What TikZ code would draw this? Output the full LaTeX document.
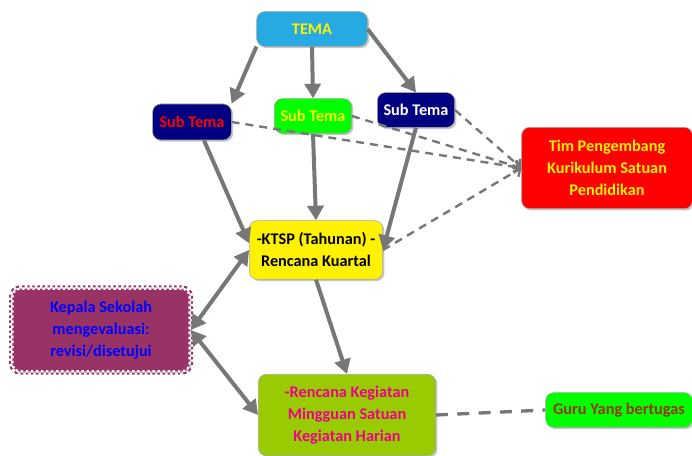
\documentclass[tikz,border=0pt]{standalone}
\usepackage{fontspec}
\setmainfont{Carlito}
\usetikzlibrary{positioning,shapes,shadows,arrows.meta}
\definecolor{temablue}{HTML}{27A9E1}
\definecolor{navybox}{HTML}{000080}
\definecolor{kepalafill}{HTML}{993366}
\definecolor{rencanafill}{HTML}{99CC00}
\definecolor{gurutext}{HTML}{993300}
\definecolor{linegray}{HTML}{777777}

\begin{document}
\begin{tikzpicture}[x=0.75pt,y=-0.75pt]
	\tikzstyle{box}=[rectangle, rounded corners=6pt, draw=gray!70, drop shadow={opacity=0.45,shadow xshift=1.3pt,shadow yshift=-1.3pt},
	text centered, align=center, inner sep=2pt, font=\bfseries\fontsize{12.2}{16.5}\selectfont]
	\tikzstyle{line}=[-{Triangle[length=11pt,width=12pt]}, line width=3pt, draw=linegray]
	\tikzstyle{both}=[{Triangle[length=11pt,width=12pt]}-{Triangle[length=11pt,width=12pt]}, line width=3pt, draw=linegray]
	\tikzstyle{dline}=[-{Straight Barb[length=4pt,width=9pt]}, dash pattern=on 6pt off 4.5pt, line width=1.8pt, draw=linegray]
	\useasboundingbox (0,0) rectangle (692,456);
	\node (tema) [box, fill=temablue, text=yellow, minimum width=83pt, minimum height=26pt] at (312,29) {TEMA};
	\node (subkiri) [box, fill=navybox, text=red, minimum width=59pt, minimum height=27pt] at (192,122) {Sub Tema};
	\node (subtengah) [box, fill=green, text=yellow, minimum width=58pt, minimum height=26pt] at (313,116) {Sub Tema};
	\node (subkanan) [box, fill=navybox, text=white, minimum width=58pt, minimum height=26pt] at (416,110) {Sub Tema};
	\node (tim) [box, fill=red, text=yellow, minimum width=128pt, minimum height=61pt] at (607,168)
	{Tim Pengembang\\Kurikulum Satuan\\Pendidikan};
	\node (ktsp) [box, fill=yellow, text=black, minimum width=100pt, minimum height=44pt] at (316,250)
	{-KTSP (Tahunan) -\\Rencana Kuartal};
	\node (kepala) [box, fill=kepalafill, text=blue, minimum width=133pt, minimum height=62pt,
	preaction={draw=kepalafill, line width=5pt}, draw=white, dash pattern=on 1.8pt off 2pt, line width=1.8pt] at (101,330)
	{Kepala Sekolah\\mengevaluasi:\\revisi/disetujui};
	\node (rencana) [box, fill=rencanafill, text=magenta, minimum width=133pt, minimum height=61pt] at (347,415)
	{-Rencana Kegiatan\\Mingguan Satuan\\Kegiatan Harian};
	\node (guru) [box, fill=green, text=gurutext, minimum width=110pt, minimum height=26pt] at (619,410) {Guru Yang bertugas};

	\draw[line] (tema.south west) -- (subkiri.north east);
	\draw[line] (tema.south) -- (subtengah.north);
	\draw[line] (tema.east) -- (subkanan.north);
	\draw[line] ([xshift=9pt]subkiri.south) -- ([yshift=5pt]ktsp.west);
	\draw[line] (subtengah.south) -- (ktsp.north);
	\draw[line] (subkanan.south) -- (ktsp.east);
	\draw[line] (ktsp.south) -- (rencana.north);
	\draw[both] (ktsp.west) -- (kepala.east);
	\draw[both] (kepala.east) -- (rencana.west);
	\draw[dline] (subkiri.east) -- (tim.west);
	\draw[dline] (subtengah.east) -- (tim.west);
	\draw[dline] (subkanan.east) -- (tim.west);
	\draw[dline] (ktsp.east) -- (tim.west);
	\draw[dline, -, line width=2.5pt, dash pattern=on 9pt off 7pt] (rencana.east) -- (guru.west);
\end{tikzpicture}
\end{document}
